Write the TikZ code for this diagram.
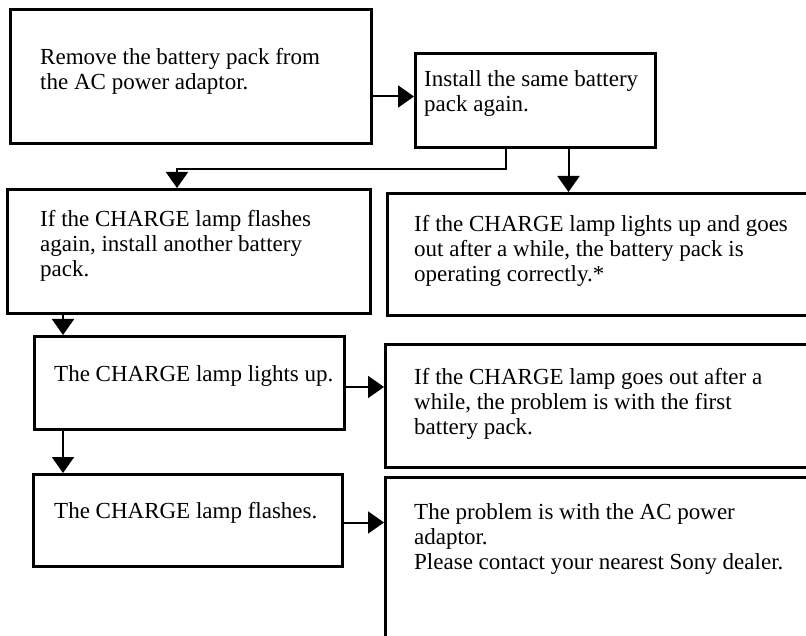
\documentclass[tikz,border=0pt]{standalone}
\usepackage{fontspec}
\setmainfont{Liberation Serif}
\usepackage{tikz}
\usetikzlibrary{arrows.meta, positioning}
\tikzset{
    stepbox/.style={rectangle, draw, line width=3pt, anchor=north west, inner sep=0pt},
    steptext/.style={inner sep=0pt, align=left, font=\fontsize{23}{25}\selectfont},
    flowline/.style={draw, line width=2pt, -{Triangle[length=16pt, width=22pt]}}
}

\begin{document}
\begin{tikzpicture}[x=1pt, y=-1pt]
        \useasboundingbox (0,0) rectangle (806,636);
        \clip (0,0) rectangle (806,636);

        % Boxes
        \node[stepbox, minimum width=361pt, minimum height=134pt] (remove) at (9,8) {};
        \node[stepbox, minimum width=240pt, minimum height=94pt] (install) at (414,52) {};
        \node[stepbox, minimum width=363pt, minimum height=124pt] (flash) at (6,188) {};
        \node[stepbox, minimum width=440pt, minimum height=122pt] (correct) at (386,192) {};
        \node[stepbox, minimum width=310pt, minimum height=93pt] (lightsup) at (33,335) {};
        \node[stepbox, minimum width=440pt, minimum height=123pt] (firstpack) at (384,343) {};
        \node[stepbox, minimum width=309pt, minimum height=92pt] (flashes) at (32,473) {};
        \node[stepbox, minimum width=440pt, minimum height=200pt] (adaptor) at (384,476) {};

        % Texts
        \node[steptext, below right=40pt and 31pt of remove.north west] (removetxt) {Remove the battery pack from\\the AC power adaptor.};
        \node[steptext, below right=18pt and 10pt of install.north west] (installtxt) {Install the same battery\\pack again.};
        \node[steptext, below right=22pt and 34pt of flash.north west] (flashtxt) {If the CHARGE lamp flashes\\again, install another battery\\pack.};
        \node[steptext, below right=23pt and 28pt of correct.north west] (correcttxt) {If the CHARGE lamp lights up and goes\\out after a while, the battery pack is\\operating correctly.*};
        \node[steptext, below right=30pt and 21pt of lightsup.north west] (lightsuptxt) {The CHARGE lamp lights up.};
        \node[steptext, below right=25pt and 30pt of firstpack.north west] (firstpacktxt) {If the CHARGE lamp goes out after a\\while, the problem is with the first\\battery pack.};
        \node[steptext, below right=29pt and 22pt of flashes.north west] (flashestxt) {The CHARGE lamp flashes.};
        \node[steptext, below right=27pt and 30pt of adaptor.north west] (adaptortxt) {The problem is with the AC power\\adaptor.\\Please contact your nearest Sony dealer.};

        % Connectors
        \draw[flowline] ([yshift=4pt]install.west -| remove.east) -- ([yshift=4pt]install.west);
        \draw[flowline] ([xshift=-30pt]install.south) -- ++(0,20) -| ([xshift=-12pt]flash.north);
        \draw[flowline] ([xshift=33pt]install.south) -- ([xshift=33pt]install.south |- correct.north);
        \draw[flowline] ([xshift=30pt]lightsup.north west |- flash.south) -- ([xshift=30pt]lightsup.north west);
        \draw[flowline] ([yshift=-4pt]lightsup.east) -- ([yshift=-4pt]lightsup.east -| firstpack.west);
        \draw[flowline] ([xshift=30pt]lightsup.south west) -- ([xshift=30pt]lightsup.south west |- flashes.north);
        \draw[flowline] ([yshift=-2pt]flashes.east) -- ([yshift=-2pt]flashes.east -| adaptor.west);
\end{tikzpicture}
\end{document}
